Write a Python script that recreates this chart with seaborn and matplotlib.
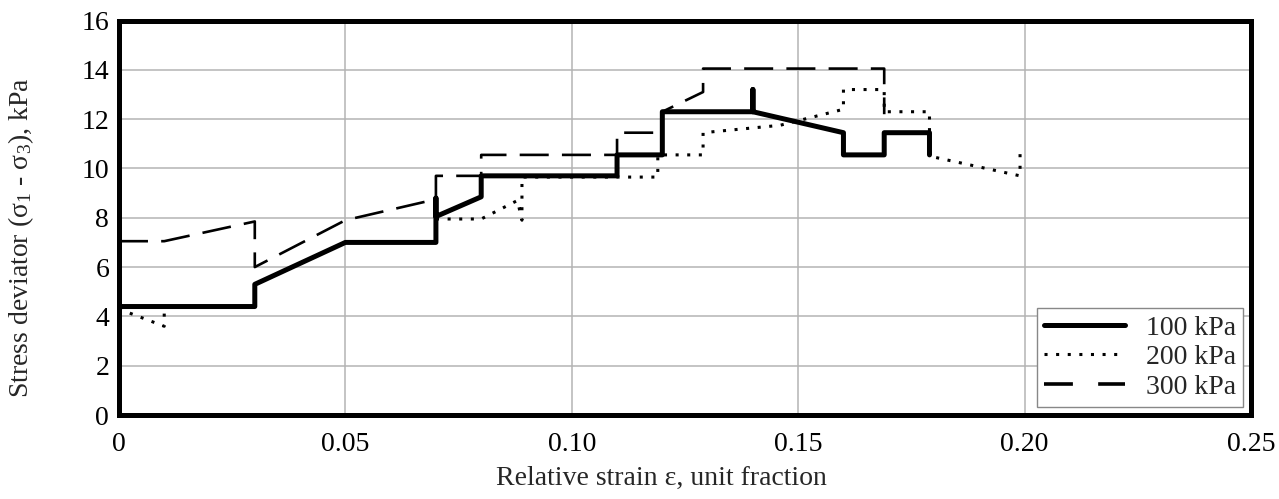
import pandas as pd
import matplotlib
matplotlib.use("Agg")
import matplotlib.pyplot as plt
import seaborn as sns

# strain (x) and stress deviator (y), in drawing order
x_100 = [0.0, 0.03, 0.03, 0.05, 0.07, 0.07, 0.07, 0.08, 0.08, 0.11, 0.11, 0.12, 0.12,
         0.14, 0.14, 0.14, 0.16, 0.16, 0.169, 0.169, 0.179, 0.179]
y_100 = [4.4, 4.4, 5.3, 7.0, 7.0, 8.8, 8.05, 8.85, 9.7, 9.7, 10.55, 10.55, 12.3,
         12.3, 13.2, 12.3, 11.45, 10.55, 10.55, 11.45, 11.45, 10.55]

x_200 = [0.0, 0.01, 0.01, 0.01, 0.03, 0.03, 0.05, 0.07, 0.07, 0.08, 0.088, 0.089, 0.089,
         0.119, 0.119, 0.129, 0.129, 0.146, 0.16, 0.16, 0.169, 0.169, 0.179, 0.179,
         0.199, 0.199]
y_200 = [4.3, 3.6, 4.2, 4.4, 4.4, 5.3, 7.0, 7.0, 7.95, 7.95, 8.7, 7.9, 9.65,
         9.65, 10.55, 10.55, 11.45, 11.75, 12.4, 13.2, 13.2, 12.3, 12.3, 10.5,
         9.7, 10.6]

x_300 = [0.0, 0.01, 0.03, 0.03, 0.05, 0.07, 0.07, 0.08, 0.08, 0.11, 0.11, 0.12, 0.12,
         0.129, 0.129, 0.169, 0.169]
y_300 = [7.05, 7.05, 7.85, 6.0, 7.9, 8.75, 9.7, 9.7, 10.55, 10.55, 11.45, 11.45, 12.3,
         13.1, 14.05, 14.05, 12.2]

labels = ["100 kPa", "200 kPa", "300 kPa"]
x_ticks = [0, 0.05, 0.10, 0.15, 0.20, 0.25]
x_ticklabels = ["0", "0.05", "0.10", "0.15", "0.20", "0.25"]

sns.set_style("whitegrid")
plt.rcParams["font.family"] = ["Liberation Serif", "DejaVu Serif"]
plt.rcParams["mathtext.fontset"] = "custom"
plt.rcParams["mathtext.rm"] = "Liberation Serif"
plt.rcParams["mathtext.it"] = "Liberation Serif:italic"

fs = 20
fig = plt.figure(figsize=(12.79, 4.99), dpi=100)
ax = fig.add_axes([0.0930, 0.1683, 0.8851, 0.7906])

styles = [dict(lw=3.6, ls="-"),
          dict(lw=2.2, ls=(0, (1.0, 2.8))),
          dict(lw=1.9, ls=(0, (11, 5)))]
for xs, ys, lab, st in zip([x_100, x_200, x_300], [y_100, y_200, y_300], labels, styles):
    d = pd.DataFrame({"x": xs, "y": ys})
    sns.lineplot(data=d, x="x", y="y", sort=False, estimator=None, color="black",
                 linewidth=st["lw"], linestyle=st["ls"], label=lab, ax=ax)

ax.set_xlim(0, 0.25)
ax.set_ylim(0, 16)
ax.set_xticks(x_ticks)
ax.set_xticklabels(x_ticklabels)
ax.set_yticks(range(0, 17, 2))
ax.grid(True, color="#b4b4b4", linewidth=1.1)
ax.tick_params(axis="both", length=0, labelsize=fs, colors="black")
ax.tick_params(axis="x", pad=12)
ax.tick_params(axis="y", pad=7)
for s in ax.spines.values():
    s.set_color("black")
    s.set_linewidth(3.6)

ax.set_xlabel("Relative strain ε, unit fraction", fontsize=fs)
ax.set_ylabel("Stress deviator (σ$_1$ - σ$_3$), kPa", fontsize=fs)
ax.xaxis.set_label_coords(0.479, -0.128)
ax.yaxis.set_label_coords(-0.073, 0.45)

leg = ax.legend(loc="lower right", fontsize=fs, frameon=True, fancybox=False,
                handlelength=2.9, borderaxespad=0.3, labelspacing=0.15,
                borderpad=0.25, handletextpad=0.75)
leg.get_frame().set_edgecolor("#888888")
leg.get_frame().set_linewidth(1.0)
leg.get_frame().set_alpha(1)
hl = leg.get_lines()
hl[2].set_linestyle((0, (8, 7)))
hl[2].set_linewidth(2.6)

fig.savefig("out.png", dpi=100)
